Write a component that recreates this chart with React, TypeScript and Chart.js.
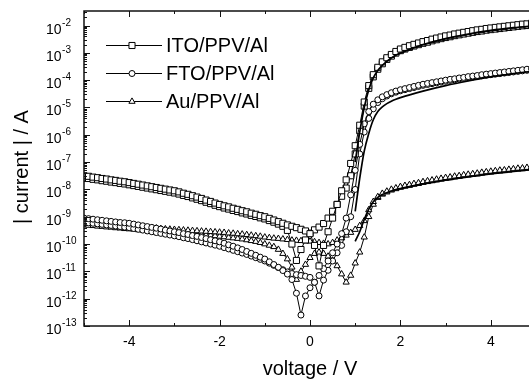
import { useEffect, useRef } from "react";
import { Chart, registerables } from "chart.js";

Chart.register(...registerables);

// Applied voltage (V), one point every 0.1 V
const voltage = [
  -5.0, -4.9, -4.8, -4.7, -4.6, -4.5, -4.4, -4.3, -4.2, -4.1,
  -4.0, -3.9, -3.8, -3.7, -3.6, -3.5, -3.4, -3.3, -3.2, -3.1,
  -3.0, -2.9, -2.8, -2.7, -2.6, -2.5, -2.4, -2.3, -2.2, -2.1,
  -2.0, -1.9, -1.8, -1.7, -1.6, -1.5, -1.4, -1.3, -1.2, -1.1,
  -1.0, -0.9, -0.8, -0.7, -0.6, -0.5, -0.4, -0.3, -0.2, -0.1,
  0.0, 0.1, 0.2, 0.3, 0.4, 0.5, 0.6, 0.7, 0.8, 0.9,
  1.0, 1.1, 1.2, 1.3, 1.4, 1.5, 1.6, 1.7, 1.8, 1.9,
  2.0, 2.1, 2.2, 2.3, 2.4, 2.5, 2.6, 2.7, 2.8, 2.9,
  3.0, 3.1, 3.2, 3.3, 3.4, 3.5, 3.6, 3.7, 3.8, 3.9,
  4.0, 4.1, 4.2, 4.3, 4.4, 4.5, 4.6, 4.7, 4.8, 4.9, 5.0,
];

// log10 of |current| (A)
const itoSweepA = [
  -7.50, -7.52, -7.55, -7.57, -7.60, -7.62, -7.65, -7.67, -7.70, -7.72,
  -7.75, -7.78, -7.81, -7.84, -7.87, -7.90, -7.93, -7.96, -7.99, -8.02,
  -8.05, -8.09, -8.14, -8.18, -8.23, -8.28, -8.33, -8.39, -8.44, -8.50,
  -8.55, -8.60, -8.64, -8.69, -8.73, -8.78, -8.82, -8.87, -8.91, -8.96,
  -9.00, -9.06, -9.12, -9.18, -9.24, -9.30, -9.35, -9.40, -9.46, -9.52,
  -9.62, -10.05, -10.80, -10.05, -9.55, -9.05, -8.55, -8.05, -7.65, -7.05,
  -6.40, -5.65, -4.80, -4.20, -3.80, -3.53, -3.33, -3.18, -3.06, -2.95,
  -2.86, -2.80, -2.74, -2.69, -2.64, -2.59, -2.55, -2.50, -2.46, -2.42,
  -2.38, -2.35, -2.31, -2.28, -2.25, -2.22, -2.19, -2.16, -2.14, -2.11,
  -2.09, -2.07, -2.05, -2.03, -2.01, -1.99, -1.97, -1.95, -1.94, -1.92, -1.90,
];
const itoSweepB = [
  -7.58, -7.60, -7.63, -7.65, -7.68, -7.70, -7.73, -7.75, -7.78, -7.80,
  -7.83, -7.86, -7.89, -7.92, -7.95, -7.98, -8.01, -8.04, -8.07, -8.10,
  -8.13, -8.17, -8.22, -8.26, -8.31, -8.36, -8.41, -8.47, -8.52, -8.58,
  -8.63, -8.68, -8.72, -8.77, -8.81, -8.86, -8.90, -8.95, -8.99, -9.04,
  -9.08, -9.14, -9.20, -9.27, -9.35, -9.50, -10.00, -10.60, -10.20, -9.85,
  -9.60, -9.48, -9.38, -9.25, -9.05, -8.80, -8.55, -8.25, -7.95, -7.50,
  -6.70, -5.85, -4.95, -4.30, -3.88, -3.60, -3.40, -3.24, -3.12, -3.01,
  -2.92, -2.86, -2.80, -2.75, -2.70, -2.65, -2.61, -2.56, -2.52, -2.48,
  -2.44, -2.41, -2.37, -2.34, -2.31, -2.28, -2.25, -2.22, -2.20, -2.17,
  -2.15, -2.13, -2.11, -2.09, -2.07, -2.05, -2.03, -2.01, -2.00, -1.98, -1.96,
];
const ftoSweepA = [
  -9.05, -9.07, -9.09, -9.11, -9.13, -9.15, -9.17, -9.19, -9.21, -9.22,
  -9.24, -9.27, -9.30, -9.33, -9.36, -9.39, -9.42, -9.45, -9.49, -9.52,
  -9.55, -9.58, -9.62, -9.65, -9.69, -9.72, -9.76, -9.80, -9.84, -9.88,
  -9.92, -9.97, -10.03, -10.08, -10.14, -10.20, -10.27, -10.34, -10.41, -10.48,
  -10.55, -10.65, -10.75, -10.85, -10.97, -11.10, -11.30, -11.80, -12.60, -11.90,
  -11.60, -11.40, -11.15, -10.90, -10.62, -10.32, -10.00, -9.62, -9.05, -8.20,
  -7.30, -6.35, -5.60, -5.15, -4.88, -4.72, -4.61, -4.53, -4.46, -4.40,
  -4.35, -4.31, -4.27, -4.23, -4.19, -4.15, -4.12, -4.09, -4.06, -4.03,
  -4.00, -3.97, -3.95, -3.92, -3.90, -3.87, -3.85, -3.83, -3.80, -3.78,
  -3.76, -3.74, -3.72, -3.70, -3.68, -3.66, -3.64, -3.62, -3.60, -3.58, -3.56,
];
const ftoSweepB = [
  -9.20, -9.22, -9.24, -9.26, -9.28, -9.30, -9.32, -9.34, -9.36, -9.38,
  -9.40, -9.43, -9.46, -9.49, -9.52, -9.55, -9.58, -9.61, -9.64, -9.67,
  -9.70, -9.73, -9.77, -9.80, -9.84, -9.88, -9.92, -9.96, -10.00, -10.04,
  -10.08, -10.13, -10.18, -10.23, -10.28, -10.33, -10.38, -10.44, -10.50, -10.56,
  -10.62, -10.70, -10.78, -10.86, -10.94, -11.02, -11.08, -11.12, -11.15, -11.18,
  -11.22, -11.40, -11.90, -11.32, -10.96, -10.62, -10.32, -10.05, -9.55, -9.00,
  -8.00, -6.70, -5.90, -5.40, -5.05, -4.82, -4.68, -4.58, -4.50, -4.44,
  -4.39, -4.35, -4.31, -4.27, -4.23, -4.19, -4.16, -4.13, -4.10, -4.07,
  -4.04, -4.01, -3.99, -3.96, -3.94, -3.91, -3.89, -3.87, -3.84, -3.82,
  -3.80, -3.78, -3.76, -3.74, -3.72, -3.70, -3.68, -3.66, -3.64, -3.62, -3.60,
];
const auSweepA = [
  -9.20, -9.22, -9.23, -9.25, -9.26, -9.28, -9.29, -9.31, -9.32, -9.34,
  -9.35, -9.36, -9.37, -9.39, -9.40, -9.41, -9.42, -9.44, -9.45, -9.46,
  -9.47, -9.48, -9.49, -9.50, -9.51, -9.52, -9.53, -9.54, -9.55, -9.56,
  -9.57, -9.58, -9.60, -9.61, -9.63, -9.64, -9.66, -9.68, -9.70, -9.72,
  -9.75, -9.77, -9.79, -9.80, -9.82, -9.84, -9.86, -9.87, -9.88, -9.89,
  -9.90, -9.92, -9.95, -9.98, -10.00, -9.95, -9.86, -9.78, -9.68, -9.58,
  -9.47, -9.33, -9.15, -8.75, -8.45, -8.27, -8.15, -8.07, -8.00, -7.95,
  -7.90, -7.86, -7.83, -7.79, -7.76, -7.72, -7.69, -7.66, -7.63, -7.60,
  -7.57, -7.55, -7.52, -7.50, -7.47, -7.45, -7.43, -7.41, -7.38, -7.36,
  -7.34, -7.32, -7.30, -7.29, -7.27, -7.25, -7.23, -7.22, -7.20, -7.18, -7.17,
];
const auSweepB = [
  -9.30, -9.32, -9.33, -9.35, -9.36, -9.38, -9.39, -9.41, -9.42, -9.44,
  -9.45, -9.46, -9.48, -9.49, -9.50, -9.52, -9.53, -9.54, -9.55, -9.57,
  -9.58, -9.59, -9.60, -9.62, -9.63, -9.64, -9.65, -9.67, -9.68, -9.70,
  -9.72, -9.74, -9.76, -9.78, -9.80, -9.82, -9.85, -9.88, -9.91, -9.95,
  -10.00, -10.05, -10.10, -10.20, -10.35, -10.55, -10.85, -11.30, -11.00, -10.75,
  -10.50, -10.35, -10.30, -10.35, -10.45, -10.60, -10.80, -11.10, -11.40, -11.15,
  -10.70, -10.30, -9.75, -9.00, -8.55, -8.30, -8.18, -8.10, -8.03, -7.98,
  -7.93, -7.89, -7.86, -7.82, -7.79, -7.75, -7.72, -7.69, -7.66, -7.63,
  -7.60, -7.58, -7.55, -7.53, -7.50, -7.48, -7.46, -7.44, -7.41, -7.39,
  -7.37, -7.35, -7.33, -7.32, -7.30, -7.28, -7.26, -7.25, -7.23, -7.21, -7.20,
];

// Smooth solid curves in forward bias
const fitVoltage = [1.0, 1.1, 1.2, 1.3, 1.4, 1.5, 1.6, 1.7, 1.8, 1.9, 2.0, 2.5, 3.0, 3.5, 4.0, 4.5, 5.0];
const itoFit = [-7.0, -5.9, -5.0, -4.35, -3.92, -3.65, -3.46, -3.31, -3.19, -3.09, -3.01, -2.70, -2.48, -2.31, -2.18, -2.08, -2.00];
const ftoFit = [-8.8, -7.6, -6.6, -5.95, -5.45, -5.15, -4.98, -4.86, -4.77, -4.70, -4.64, -4.40, -4.20, -4.03, -3.88, -3.76, -3.66];
const auFit = [-9.9, -9.55, -9.1, -8.72, -8.45, -8.29, -8.19, -8.12, -8.06, -8.01, -7.97, -7.80, -7.66, -7.54, -7.43, -7.34, -7.26];

const seriesLabels = ["ITO/PPV/Al", "FTO/PPV/Al", "Au/PPV/Al"];
const xMajorTicks = [-4, -2, 0, 2, 4];
const xMinorTicks = [-5, -3, -1, 1, 3, 5];
const yDecades = [-13, -12, -11, -10, -9, -8, -7, -6, -5, -4, -3, -2];

const FONT = "'Liberation Sans', Arial, Helvetica, sans-serif";
const INK = "#000";

type Style = "rect" | "circle" | "triangle";
const markerRadius: Record<Style, number> = { rect: 4.3, circle: 3, triangle: 3.6 };

function sweep(label: string, logs: number[], style: Style) {
  return {
    label,
    data: voltage.map((v, i) => ({ x: v, y: Math.pow(10, logs[i]) })),
    showLine: true,
    borderColor: INK,
    borderWidth: 1,
    tension: 0,
    pointStyle: style,
    pointRadius: markerRadius[style],
    pointHoverRadius: markerRadius[style],
    pointBackgroundColor: "#fff",
    pointBorderColor: INK,
    pointBorderWidth: 1,
  };
}

function fit(label: string, logs: number[]) {
  return {
    label,
    data: fitVoltage.map((v, i) => ({ x: v, y: Math.pow(10, logs[i]) })),
    showLine: true,
    borderColor: INK,
    borderWidth: 1.7,
    cubicInterpolationMode: "monotone" as const,
    pointRadius: 0,
    pointHoverRadius: 0,
  };
}

function drawMarker(ctx: CanvasRenderingContext2D, style: Style, x: number, y: number) {
  const r = markerRadius[style];
  ctx.beginPath();
  if (style === "rect") {
    const s = r / Math.SQRT2;
    ctx.rect(x - s, y - s, 2 * s, 2 * s);
  } else if (style === "circle") {
    ctx.arc(x, y, r, 0, Math.PI * 2);
  } else {
    const side = (3 * r) / Math.sqrt(3);
    const h = (side * Math.sqrt(3)) / 2;
    ctx.moveTo(x - side / 2, y + h / 3);
    ctx.lineTo(x + side / 2, y + h / 3);
    ctx.lineTo(x, y - (2 * h) / 3);
    ctx.closePath();
  }
  ctx.fillStyle = "#fff";
  ctx.fill();
  ctx.strokeStyle = INK;
  ctx.lineWidth = 1;
  ctx.stroke();
}

const framePlugin = {
  id: "originFrame",
  afterDatasetsDraw(chart: any) {
    const { ctx, chartArea: a, scales } = chart;
    const xs = scales.x;
    const ys = scales.y;
    ctx.save();

    // frame
    ctx.strokeStyle = "#111";
    ctx.lineWidth = 1.5;
    ctx.strokeRect(a.left, a.top, a.right - a.left, a.bottom - a.top);

    // x ticks (inward, bottom and top)
    ctx.lineWidth = 1;
    const xt = (v: number, len: number) => {
      const px = Math.round(xs.getPixelForValue(v)) + 0.5;
      ctx.beginPath();
      ctx.moveTo(px, a.bottom);
      ctx.lineTo(px, a.bottom - len);
      ctx.moveTo(px, a.top);
      ctx.lineTo(px, a.top + len);
      ctx.stroke();
    };
    xMajorTicks.forEach((v) => xt(v, 6));
    xMinorTicks.forEach((v) => xt(v, 3));

    // y ticks (inward, left)
    const yt = (v: number, len: number) => {
      const py = Math.round(ys.getPixelForValue(v)) + 0.5;
      if (py < a.top || py > a.bottom + 1) return;
      ctx.beginPath();
      ctx.moveTo(a.left, py);
      ctx.lineTo(a.left + len, py);
      ctx.stroke();
    };
    yDecades.forEach((e) => {
      yt(Math.pow(10, e), 6);
      for (let m = 2; m <= 9; m++) {
        const v = m * Math.pow(10, e);
        if (v < ys.max) yt(v, 3);
      }
    });

    // x tick labels
    ctx.fillStyle = INK;
    ctx.font = `14px ${FONT}`;
    ctx.textAlign = "center";
    ctx.textBaseline = "alphabetic";
    xMajorTicks.forEach((v) => {
      ctx.fillText(String(v), xs.getPixelForValue(v), a.bottom + 20);
    });

    // y tick labels: 10 with superscript exponent
    yDecades.forEach((e) => {
      const py = ys.getPixelForValue(Math.pow(10, e));
      ctx.textAlign = "left";
      ctx.font = `14px ${FONT}`;
      ctx.fillText("10", 46, py + 8);
      const w = ctx.measureText("10").width;
      ctx.font = `10px ${FONT}`;
      ctx.fillText(String(e), 46 + w + 0.5, py);
    });

    // axis titles
    ctx.font = `20px ${FONT}`;
    ctx.textAlign = "center";
    ctx.fillText("voltage / V", xs.getPixelForValue(0), 375);
    ctx.save();
    ctx.translate(28, 167);
    ctx.rotate(-Math.PI / 2);
    ctx.fillText("| current | / A", 0, 0);
    ctx.restore();

    // legend
    const styles: Style[] = ["rect", "circle", "triangle"];
    seriesLabels.forEach((label, i) => {
      const y = 45.5 + i * 28;
      ctx.strokeStyle = INK;
      ctx.lineWidth = 1;
      ctx.beginPath();
      ctx.moveTo(106, y);
      ctx.lineTo(162, y);
      ctx.stroke();
      drawMarker(ctx, styles[i], 132, y);
      ctx.fillStyle = INK;
      ctx.font = `20px ${FONT}`;
      ctx.textAlign = "left";
      ctx.textBaseline = "middle";
      ctx.fillText(label, 166, y + 1);
      ctx.textBaseline = "alphabetic";
    });

    ctx.restore();
  },
};

export default function App() {
  const ref = useRef<HTMLCanvasElement>(null);
  useEffect(() => {
    const canvas = ref.current;
    if (!canvas) return;
    const chart = new Chart(canvas, {
      type: "scatter",
      data: {
        datasets: [
          fit("ITO fit", itoFit),
          fit("FTO fit", ftoFit),
          fit("Au fit", auFit),
          sweep(seriesLabels[0], itoSweepA, "rect"),
          sweep(seriesLabels[0], itoSweepB, "rect"),
          sweep(seriesLabels[1], ftoSweepA, "circle"),
          sweep(seriesLabels[1], ftoSweepB, "circle"),
          sweep(seriesLabels[2], auSweepA, "triangle"),
          sweep(seriesLabels[2], auSweepB, "triangle"),
        ] as any,
      },
      options: {
        animation: false,
        responsive: false,
        devicePixelRatio: 1,
        events: [],
        layout: { autoPadding: false, padding: { left: 84, top: 11, right: 10, bottom: 53 } },
        plugins: { legend: { display: false }, tooltip: { enabled: false }, title: { display: false } },
        scales: {
          x: { type: "linear", min: -5, max: 5, display: false },
          y: { type: "logarithmic", min: 1e-13, max: 3.4e-2, display: false },
        },
      },
      plugins: [framePlugin],
    });
    return () => chart.destroy();
  }, []);

  return (
    <div
      style={{
        position: "absolute",
        left: 0,
        top: 0,
        width: 529,
        height: 379,
        overflow: "hidden",
        background: "#fff",
      }}
    >
      <canvas ref={ref} width={546} height={379} style={{ display: "block", width: 546, height: 379 }} />
    </div>
  );
}
